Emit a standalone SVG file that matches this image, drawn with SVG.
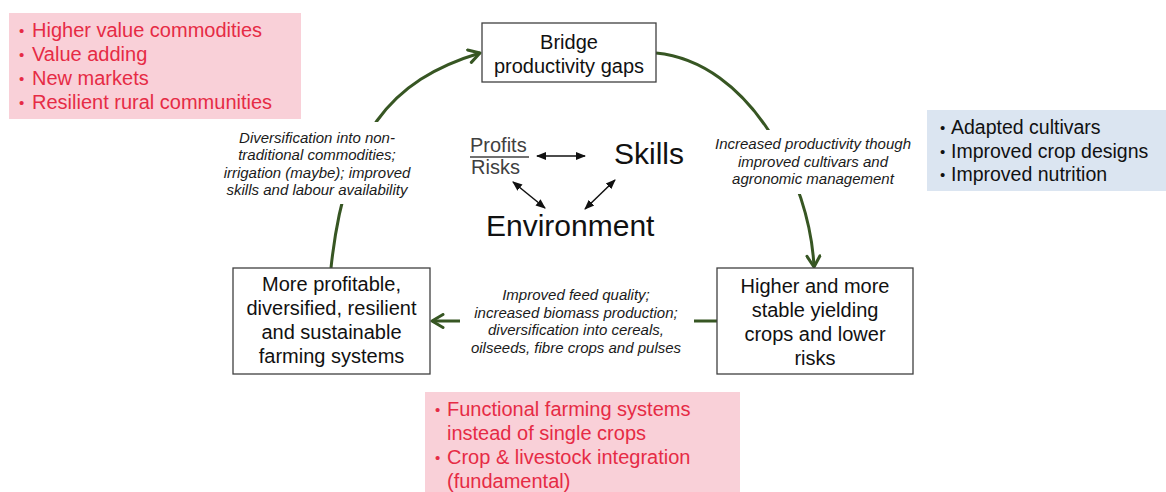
<svg xmlns="http://www.w3.org/2000/svg" width="1166" height="492" viewBox="0 0 1166 492">
  <style>
    .box { fill: #ffffff; stroke: #404040; stroke-width: 1.3; }
    .node { font-family: "Liberation Sans", Arial, sans-serif; font-size: 20px; fill: #111111; text-anchor: middle; }
    .lbl { font-family: "Liberation Sans", Arial, sans-serif; font-size: 15px; font-style: italic; fill: #1a1a1a; text-anchor: middle; }
    .bg { fill: #ffffff; }
    .red { font-family: "Liberation Sans", Arial, sans-serif; font-size: 20px; fill: #E62B45; }
    .blk { font-family: "Liberation Sans", Arial, sans-serif; font-size: 19.5px; fill: #111111; }
    .dot { font-size: 15px; }
    .big { font-family: "Liberation Sans", Arial, sans-serif; font-size: 30px; fill: #111111; }
    .frac { font-family: "Liberation Sans", Arial, sans-serif; font-size: 20px; fill: #404040; }
    .flow { fill: none; stroke: #375623; stroke-width: 3; }
    .link { fill: none; stroke: #111111; stroke-width: 1.5; }
  </style>
  <defs>
    <marker id="openHead" markerUnits="userSpaceOnUse" markerWidth="16" markerHeight="16" viewBox="0 0 16 16" refX="14" refY="8" orient="auto">
      <path d="M3,1.5 L14,8 L3,14.5" fill="none" stroke="#375623" stroke-width="3" stroke-linejoin="round" stroke-linecap="round"/>
    </marker>
    <marker id="solidHead" markerUnits="userSpaceOnUse" markerWidth="10" markerHeight="10" viewBox="0 0 10 10" refX="9" refY="5" orient="auto-start-reverse">
      <path d="M0,1 L10,5 L0,9 Z" fill="#111111"/>
    </marker>
  </defs>

  <!-- callout panels -->
  <g id="outcomes-panel">
    <rect x="9" y="13" width="292" height="106" fill="#F9D0D8"/>
    <text class="red"><tspan class="dot" x="19" y="36">•</tspan><tspan x="32" y="37">Higher value commodities</tspan></text>
    <text class="red"><tspan class="dot" x="19" y="60">•</tspan><tspan x="32" y="61">Value adding</tspan></text>
    <text class="red"><tspan class="dot" x="19" y="84">•</tspan><tspan x="32" y="85">New markets</tspan></text>
    <text class="red"><tspan class="dot" x="19" y="108">•</tspan><tspan x="32" y="109">Resilient rural communities</tspan></text>
  </g>

  <g id="cultivar-panel">
    <rect x="927" y="110" width="239" height="81" fill="#DBE5F1"/>
    <text class="blk"><tspan class="dot" x="940" y="133">•</tspan><tspan x="951" y="134">Adapted cultivars</tspan></text>
    <text class="blk"><tspan class="dot" x="940" y="156.5">•</tspan><tspan x="951" y="157.5">Improved crop designs</tspan></text>
    <text class="blk"><tspan class="dot" x="940" y="180">•</tspan><tspan x="951" y="181">Improved nutrition</tspan></text>
  </g>

  <g id="systems-panel">
    <rect x="425" y="392" width="315" height="100" fill="#F9D0D8"/>
    <text class="red"><tspan class="dot" x="435" y="415">•</tspan><tspan x="447" y="416">Functional farming systems</tspan></text>
    <text class="red"><tspan x="447" y="440">instead of single crops</tspan></text>
    <text class="red"><tspan class="dot" x="435" y="463">•</tspan><tspan x="447" y="464">Crop &amp; livestock integration</tspan></text>
    <text class="red"><tspan x="447" y="488">(fundamental)</tspan></text>
  </g>

  <!-- cycle connectors -->
  <g id="connectors">
    <path class="flow" d="M331,268 C345,135 390,80 480,53" marker-end="url(#openHead)"/>
    <path class="flow" d="M656,53 C750,62 810,180 814,267" marker-end="url(#openHead)"/>
    <path class="flow" d="M717,321 L432,321" marker-end="url(#openHead)"/>
    <!-- central relations -->
    <path class="link" d="M537,156 L585,156" marker-start="url(#solidHead)" marker-end="url(#solidHead)"/>
    <path class="link" d="M513,182 L545,208" marker-start="url(#solidHead)" marker-end="url(#solidHead)"/>
    <path class="link" d="M615,180 L585,209" marker-start="url(#solidHead)" marker-end="url(#solidHead)"/>
  </g>

  <!-- connector labels -->
  <g id="label-diversification">
    <rect class="bg" x="222" y="122" width="190" height="82"/>
    <text class="lbl" x="317" y="142.5">Diversification into non-</text>
    <text class="lbl" x="317" y="160">traditional commodities;</text>
    <text class="lbl" x="317" y="177.5">irrigation (maybe); improved</text>
    <text class="lbl" x="317" y="195">skills and labour availability</text>
  </g>

  <g id="label-productivity">
    <rect class="bg" x="710" y="130" width="206" height="64"/>
    <text class="lbl" x="813" y="149">Increased productivity though</text>
    <text class="lbl" x="813" y="166.5">improved cultivars and</text>
    <text class="lbl" x="813" y="184">agronomic management</text>
  </g>

  <g id="label-feed">
    <rect class="bg" x="460" y="284" width="234" height="74"/>
    <text class="lbl" x="576" y="300">Improved feed quality;</text>
    <text class="lbl" x="576" y="317.7">increased biomass production;</text>
    <text class="lbl" x="576" y="335.4">diversification into cereals,</text>
    <text class="lbl" x="576" y="353">oilseeds, fibre crops and pulses</text>
  </g>

  <!-- cycle nodes -->
  <g id="bridge">
    <rect class="box" x="482" y="23" width="174" height="59"/>
    <text class="node" x="569" y="49">Bridge</text>
    <text class="node" x="569" y="73">productivity gaps</text>
  </g>

  <g id="yields">
    <rect class="box" x="717" y="268" width="196" height="106"/>
    <text class="node" x="815" y="293">Higher and more</text>
    <text class="node" x="815" y="317">stable yielding</text>
    <text class="node" x="815" y="341">crops and lower</text>
    <text class="node" x="815" y="365">risks</text>
  </g>

  <g id="farming-systems">
    <rect class="box" x="233" y="268" width="197" height="106"/>
    <text class="node" x="331.5" y="291">More profitable,</text>
    <text class="node" x="331.5" y="315">diversified, resilient</text>
    <text class="node" x="331.5" y="339">and sustainable</text>
    <text class="node" x="331.5" y="363">farming systems</text>
  </g>

  <!-- central drivers -->
  <g id="profits-risks">
    <text class="frac" x="470" y="152">Profits</text>
    <line x1="470" y1="157" x2="529" y2="157" stroke="#404040" stroke-width="1.3"/>
    <text class="frac" x="471" y="174">Risks</text>
  </g>
  <g id="skills">
    <text class="big" x="614" y="164">Skills</text>
  </g>
  <g id="environment">
    <text class="big" x="486" y="236">Environment</text>
  </g>
</svg>
